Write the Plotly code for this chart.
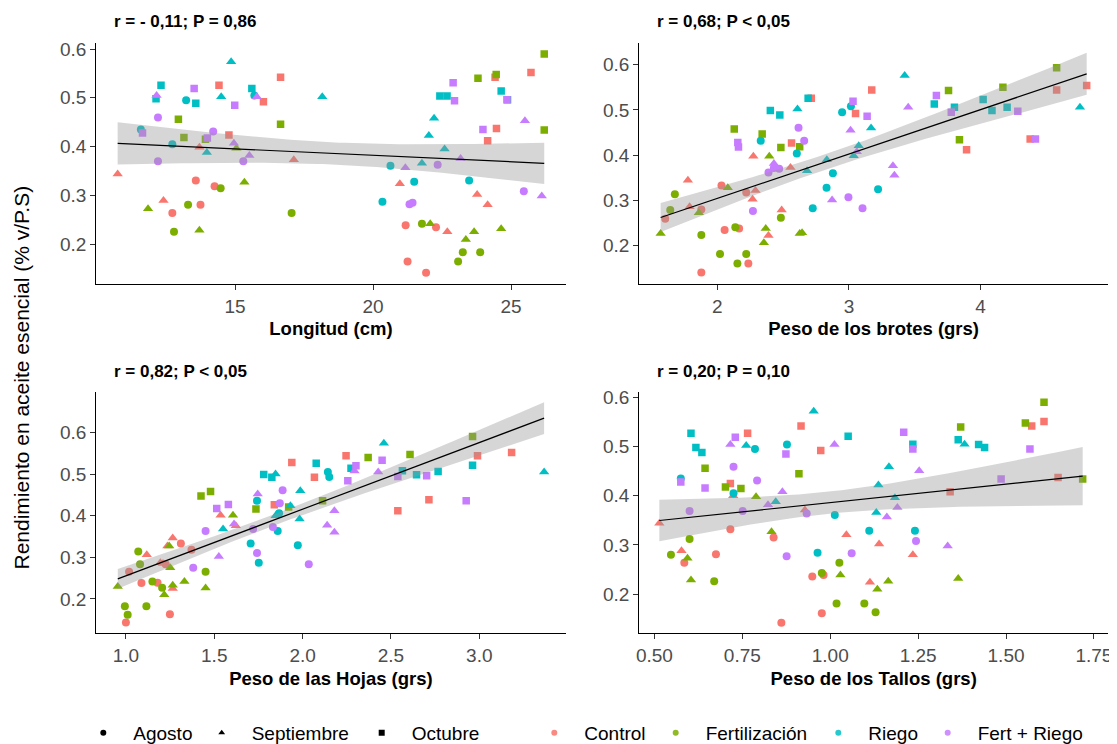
import numpy as np
import plotly.graph_objects as go

W, H = 1117, 744
OFF = 8  # the page body margin shifts the figure by 8 px; layout targets are page pixels

TREATMENTS = ["Control", "Fertilización", "Riego", "Fert + Riego"]
TRT_COLORS = ["#F8766D", "#7CAE00", "#00BFC4", "#C77CFF"]
MONTHS = ["Agosto", "Septiembre", "Octubre"]
MONTH_SYMBOLS = ["circle", "triangle-up", "square"]
MONTH_SIZES = [8, 9, 7.5]

PANEL_TITLES = ["r = - 0,11; P = 0,86", "r = 0,68; P < 0,05",
                "r = 0,82; P < 0,05", "r = 0,20; P = 0,10"]
X_TITLES = ["Longitud (cm)", "Peso de los brotes (grs)",
            "Peso de las Hojas (grs)", "Peso de los Tallos (grs)"]
Y_TITLE = "Rendimiento en aceite esencial (% v/P.S)"

# Point order in every panel: treatment (Control, Fertilización, Riego, Fert + Riego)
# x month (Agosto, Septiembre, Octubre), 8 plants per group.

# ---- Panel 1: Longitud (cm)
LONG_X = [
    13.58, 14.26, 13.75, 12.73, 21.18, 21.25, 21.92, 22.28,
    10.75, 13.71, 17.13, 12.41, 20.97, 22.69, 23.77, 24.15,
    14.42, 16.65, 16.03, 14.78, 24.42, 24.47, 24.15, 25.72,
    14.48, 13.30, 12.79, 17.05, 21.77, 23.08, 23.25, 23.88,
    15.05, 15.34, 11.85, 13.71, 22.07, 23.36, 23.66, 24.64,
    26.20, 26.20, 24.46, 23.80, 16.65, 12.95, 13.15, 13.93,
    13.23, 11.59, 12.73, 15.70, 20.34, 20.63, 21.49, 23.48,
    14.86, 14.50, 18.16, 13.98, 21.77, 22.02, 22.21, 22.59,
    12.32, 12.14, 13.58, 15.61, 22.42, 22.68, 24.64, 24.87,
    12.21, 12.21, 14.21, 15.30, 21.32, 21.43, 22.34, 25.46,
    12.16, 14.96, 15.52, 15.79, 21.17, 23.17, 25.50, 26.11,
    11.65, 13.52, 14.99, 14.00, 22.90, 22.95, 23.98, 24.85,
]
LONG_Y = [
    0.331, 0.319, 0.281, 0.264, 0.239, 0.165, 0.142, 0.235,
    0.344, 0.399, 0.373, 0.290, 0.324, 0.226, 0.302, 0.281,
    0.526, 0.542, 0.492, 0.424, 0.542, 0.437, 0.412, 0.552,
    0.315, 0.281, 0.226, 0.264, 0.242, 0.165, 0.184, 0.184,
    0.397, 0.327, 0.273, 0.229, 0.242, 0.210, 0.226, 0.232,
    0.590, 0.434, 0.548, 0.540, 0.446, 0.456, 0.419, 0.415,
    0.495, 0.435, 0.405, 0.505, 0.287, 0.361, 0.328, 0.331,
    0.574, 0.502, 0.502, 0.388, 0.366, 0.423, 0.458, 0.395,
    0.526, 0.498, 0.489, 0.519, 0.504, 0.504, 0.514, 0.496,
    0.460, 0.370, 0.431, 0.370, 0.282, 0.285, 0.363, 0.309,
    0.505, 0.407, 0.382, 0.502, 0.357, 0.376, 0.453, 0.299,
    0.428, 0.519, 0.485, 0.418, 0.531, 0.494, 0.435, 0.496,
]

# ---- Panel 2: Peso de los brotes (grs)
BROTES_X = [
    1.605, 1.879, 1.879, 2.032, 2.056, 2.166, 2.236, 2.220,
    1.777, 1.790, 2.274, 2.290, 2.268, 2.389, 2.489, 2.556,
    2.564, 2.714, 3.050, 3.173, 3.893, 4.376, 4.577, 4.805,
    1.643, 1.678, 1.879, 2.021, 2.137, 2.153, 2.220, 2.483,
    1.570, 1.860, 2.080, 2.354, 2.368, 2.395, 2.626, 2.644,
    2.129, 2.341, 2.483, 2.626, 3.756, 3.839, 4.169, 4.577,
    2.330, 2.604, 2.725, 2.830, 2.878, 2.948, 3.015, 3.221,
    2.609, 2.682, 2.832, 3.036, 3.074, 3.168, 3.423, 4.754,
    2.403, 2.475, 2.690, 3.648, 3.801, 4.019, 4.086, 4.201,
    2.271, 2.389, 2.470, 2.617, 2.660, 2.996, 3.103, 2.430,
    2.430, 2.450, 2.872, 3.012, 3.060, 3.334, 3.345, 3.450,
    2.156, 2.161, 3.031, 3.138, 3.664, 3.777, 4.282, 4.416,
]
BROTES_Y = [
    0.260, 0.280, 0.141, 0.333, 0.235, 0.238, 0.161, 0.318,
    0.345, 0.286, 0.398, 0.322, 0.303, 0.223, 0.279, 0.373,
    0.427, 0.526, 0.492, 0.544, 0.412, 0.436, 0.544, 0.554,
    0.279, 0.314, 0.224, 0.182, 0.241, 0.161, 0.182, 0.262,
    0.227, 0.273, 0.328, 0.207, 0.238, 0.398, 0.227, 0.229,
    0.458, 0.447, 0.417, 0.419, 0.543, 0.434, 0.550, 0.593,
    0.432, 0.404, 0.283, 0.328, 0.360, 0.495, 0.508, 0.325,
    0.502, 0.366, 0.390, 0.399, 0.421, 0.460, 0.576, 0.506,
    0.499, 0.489, 0.526, 0.513, 0.506, 0.523, 0.499, 0.506,
    0.277, 0.362, 0.370, 0.461, 0.432, 0.307, 0.283, 0.372,
    0.382, 0.371, 0.301, 0.455, 0.408, 0.377, 0.356, 0.506,
    0.428, 0.418, 0.519, 0.486, 0.532, 0.495, 0.497, 0.436,
]

# ---- Panel 3: Peso de las Hojas (grs)
HOJAS_X = [
    1.000, 1.018, 1.088, 1.179, 1.225, 1.249, 1.311, 1.371,
    1.118, 1.195, 1.235, 1.265, 1.265, 1.536, 1.622, 1.210,
    1.840, 1.939, 2.067, 2.246, 2.539, 2.715, 2.990, 3.183,
    0.994, 1.010, 1.070, 1.080, 1.116, 1.150, 1.205, 1.451,
    0.954, 1.217, 1.245, 1.251, 1.265, 1.331, 1.451, 1.606,
    1.425, 1.479, 1.736, 1.921, 2.113, 2.371, 2.608, 2.962,
    1.706, 1.742, 1.752, 1.859, 1.867, 1.973, 2.143, 2.151,
    1.550, 1.847, 1.847, 1.931, 1.983, 1.987, 2.460, 3.367,
    1.780, 1.826, 2.077, 2.274, 2.565, 2.645, 2.767, 2.962,
    1.451, 1.381, 1.720, 1.742, 1.832, 1.871, 1.887, 2.035,
    1.526, 1.612, 1.746, 2.139, 2.180, 2.180, 2.294, 2.428,
    1.514, 1.580, 2.256, 2.302, 2.450, 2.539, 2.702, 2.926,
]
HOJAS_Y = [
    0.143, 0.265, 0.238, 0.239, 0.283, 0.163, 0.333, 0.318,
    0.306, 0.287, 0.327, 0.346, 0.225, 0.401, 0.376, 0.285,
    0.426, 0.528, 0.492, 0.544, 0.412, 0.438, 0.544, 0.552,
    0.182, 0.162, 0.314, 0.283, 0.182, 0.242, 0.227, 0.265,
    0.230, 0.210, 0.327, 0.275, 0.233, 0.242, 0.226, 0.401,
    0.447, 0.458, 0.416, 0.421, 0.436, 0.540, 0.547, 0.590,
    0.333, 0.436, 0.287, 0.363, 0.406, 0.329, 0.505, 0.493,
    0.368, 0.500, 0.400, 0.424, 0.392, 0.460, 0.574, 0.505,
    0.499, 0.492, 0.526, 0.514, 0.508, 0.498, 0.506, 0.521,
    0.363, 0.275, 0.368, 0.310, 0.373, 0.430, 0.461, 0.283,
    0.302, 0.380, 0.452, 0.377, 0.412, 0.360, 0.507, 0.505,
    0.417, 0.427, 0.484, 0.520, 0.533, 0.494, 0.496, 0.436,
]

# ---- Panel 4: Peso de los Tallos (grs)
TALLOS_X = [
    0.585, 0.675, 0.716, 0.839, 0.861, 0.949, 0.976, 0.981,
    0.514, 0.577, 0.724, 0.928, 1.046, 1.113, 1.139, 1.235,
    0.716, 0.765, 0.917, 0.973, 1.341, 1.573, 1.608, 1.648,
    0.547, 0.600, 0.670, 0.976, 1.018, 1.026, 1.097, 1.129,
    0.594, 0.604, 0.789, 0.833, 1.029, 1.134, 1.165, 1.364,
    0.644, 0.702, 0.746, 0.911, 1.371, 1.555, 1.608, 1.718,
    0.575, 0.725, 0.786, 0.877, 0.964, 1.013, 1.111, 1.241,
    0.761, 0.845, 0.953, 1.131, 1.137, 1.167, 1.184, 1.382,
    0.604, 0.618, 0.635, 1.051, 1.235, 1.364, 1.422, 1.439,
    0.600, 0.725, 0.751, 0.792, 0.876, 0.933, 1.061, 1.244,
    0.716, 0.823, 0.864, 1.012, 1.161, 1.191, 1.253, 1.334,
    0.575, 0.644, 0.730, 0.874, 1.209, 1.235, 1.486, 1.568,
]
TALLOS_Y = [
    0.264, 0.281, 0.332, 0.315, 0.142, 0.236, 0.161, 0.239,
    0.344, 0.288, 0.400, 0.371, 0.321, 0.224, 0.302, 0.280,
    0.425, 0.527, 0.542, 0.492, 0.408, 0.542, 0.551, 0.437,
    0.280, 0.312, 0.226, 0.243, 0.181, 0.264, 0.181, 0.163,
    0.273, 0.229, 0.398, 0.327, 0.239, 0.210, 0.226, 0.232,
    0.456, 0.418, 0.415, 0.445, 0.540, 0.548, 0.590, 0.434,
    0.435, 0.405, 0.495, 0.504, 0.284, 0.361, 0.329, 0.329,
    0.502, 0.388, 0.572, 0.366, 0.422, 0.459, 0.396, 0.505,
    0.527, 0.498, 0.488, 0.521, 0.505, 0.514, 0.504, 0.498,
    0.369, 0.459, 0.369, 0.431, 0.277, 0.364, 0.283, 0.308,
    0.504, 0.382, 0.408, 0.504, 0.357, 0.376, 0.451, 0.298,
    0.428, 0.416, 0.519, 0.485, 0.529, 0.495, 0.434, 0.495,
]

PANELS = [(LONG_X, LONG_Y), (BROTES_X, BROTES_Y), (HOJAS_X, HOJAS_Y), (TALLOS_X, TALLOS_Y)]
N_PER_GROUP = 8

# ---------------- layout geometry (page pixels) ----------------
X_DOM_PX = [(96.4, 565.5), (639.3, 1108), (96.4, 565.5), (639.3, 1108)]
Y_DOM_PX = [(43, 284), (43, 284), (393, 634), (393, 634)]
X_RANGES = [[9.98, 26.97], [1.408, 4.967], [0.833, 3.488], [0.457, 1.790]]
Y_RANGES = [[0.1196, 0.6124], [0.1165, 0.648], [0.1176, 0.696], [0.1207, 0.610]]
X_TICKS = [[15, 20, 25], [2, 3, 4], [1.0, 1.5, 2.0, 2.5, 3.0], [0.5, 0.75, 1.0, 1.25, 1.5, 1.75]]
X_TICKTEXT = [["15", "20", "25"], ["2", "3", "4"], ["1.0", "1.5", "2.0", "2.5", "3.0"],
              ["0.50", "0.75", "1.00", "1.25", "1.50", "1.75"]]
Y_TICKS = [0.2, 0.3, 0.4, 0.5, 0.6]

MONTH_LEGEND_PX = [103.3, 221.7, 381.7]
TRT_LEGEND_PX = [554.3, 675.7, 838.3, 947.7]
LEGEND_Y_PX = 734

FONT = "Liberation Sans, Arial, sans-serif"
TICK_COLOR = "#4D4D4D"


def fx(px):
    return (px - OFF) / W


def fy(py):
    return 1 - (py - OFF) / H


fig = go.Figure()


def lm_band(x, y, n_grid=80, tval=1.9855):
    x = np.asarray(x, float); y = np.asarray(y, float)
    n = len(x)
    b1, b0 = np.polyfit(x, y, 1)
    resid = y - (b0 + b1 * x)
    s = np.sqrt(np.sum(resid ** 2) / (n - 2))
    xm = x.mean(); sxx = np.sum((x - xm) ** 2)
    xg = np.linspace(x.min(), x.max(), n_grid)
    fit = b0 + b1 * xg
    se = s * np.sqrt(1.0 / n + (xg - xm) ** 2 / sxx)
    return xg, fit, fit - tval * se, fit + tval * se


for p, (PX, PY) in enumerate(PANELS):
    ax = "" if p == 0 else str(p + 1)
    xref, yref = "x" + ax, "y" + ax
    for t, trt in enumerate(TREATMENTS):
        for m, mes in enumerate(MONTHS):
            start = (t * len(MONTHS) + m) * N_PER_GROUP
            xs = PX[start:start + N_PER_GROUP]
            ys = PY[start:start + N_PER_GROUP]
            fig.add_trace(go.Scatter(
                x=xs, y=ys, mode="markers", xaxis=xref, yaxis=yref,
                marker=dict(symbol=MONTH_SYMBOLS[m], size=MONTH_SIZES[m],
                            color=TRT_COLORS[t], line=dict(width=0)),
                name=f"{trt} - {mes}", showlegend=False, hoverinfo="x+y+name"))
    # regression line with 95% CI (drawn over the points, like geom_smooth)
    xg, fit, lo, hi = lm_band(PX, PY)
    fig.add_trace(go.Scatter(
        x=np.concatenate([xg, xg[::-1]]), y=np.concatenate([hi, lo[::-1]]),
        fill="toself", fillcolor="rgba(153,153,153,0.4)", line=dict(width=0),
        mode="lines", xaxis=xref, yaxis=yref, showlegend=False, hoverinfo="skip"))
    fig.add_trace(go.Scatter(
        x=xg, y=fit, mode="lines", line=dict(color="black", width=1.2),
        xaxis=xref, yaxis=yref, showlegend=False, hoverinfo="skip"))

layout = dict(
    width=W, height=H, margin=dict(l=0, r=0, t=0, b=0),
    paper_bgcolor="white", plot_bgcolor="white",
    font=dict(family=FONT, color="black"),
    annotations=[],
)

ITEMW = 50
SYM_OFFSET = ITEMW / 2 + 5   # symbol centre relative to legend box left
legend_style = dict(orientation="h", yanchor="middle", xanchor="left",
                    y=fy(LEGEND_Y_PX), font=dict(family=FONT, size=19, color="black"),
                    bgcolor="rgba(0,0,0,0)", itemwidth=ITEMW)

k = 1
for m, mes in enumerate(MONTHS):
    lname = "legend" if k == 1 else f"legend{k}"
    fig.add_trace(go.Scatter(
        x=[None], y=[None], mode="markers", name=mes, legend=lname,
        marker=dict(symbol=MONTH_SYMBOLS[m], size=6, color="black")))
    layout[lname] = dict(legend_style, x=fx(MONTH_LEGEND_PX[m] - SYM_OFFSET))
    k += 1
for t, trt in enumerate(TREATMENTS):
    lname = f"legend{k}"
    fig.add_trace(go.Scatter(
        x=[None], y=[None], mode="markers", name=trt, legend=lname,
        marker=dict(symbol="circle", size=6, color=TRT_COLORS[t], opacity=0.85)))
    layout[lname] = dict(legend_style, x=fx(TRT_LEGEND_PX[t] - SYM_OFFSET))
    k += 1

for p in range(4):
    ax = "" if p == 0 else str(p + 1)
    x0, x1 = X_DOM_PX[p]
    y0, y1 = Y_DOM_PX[p]
    axis_common = dict(showline=True, linecolor="black", linewidth=1.4,
                       ticks="outside", ticklen=5, tickwidth=1.3, tickcolor="#333333",
                       showgrid=False, zeroline=False, automargin=False,
                       ticklabeloverflow="allow",
                       tickfont=dict(family=FONT, size=19, color=TICK_COLOR))
    layout["xaxis" + ax] = dict(
        axis_common, domain=[fx(x0), fx(x1)], range=X_RANGES[p], anchor="y" + ax,
        tickvals=X_TICKS[p], ticktext=X_TICKTEXT[p],
        title=dict(text=X_TITLES[p], standoff=6,
                   font=dict(family=FONT, size=18.5, color="black", weight="bold")))
    layout["yaxis" + ax] = dict(
        axis_common, domain=[fy(y1), fy(y0)], range=Y_RANGES[p], anchor="x" + ax,
        tickvals=Y_TICKS, ticktext=["0.2", "0.3", "0.4", "0.5", "0.6"])
    layout["annotations"].append(dict(
        text=f"<b>{PANEL_TITLES[p]}</b>", xref="paper", yref="paper",
        x=fx(x0 + 16), y=fy(y0 - 21), xanchor="left", yanchor="middle",
        showarrow=False, font=dict(family=FONT, size=17, color="black")))

layout["annotations"].append(dict(
    text=Y_TITLE, xref="paper", yref="paper", x=fx(22), y=fy(378),
    xanchor="center", yanchor="middle", textangle=-90, showarrow=False,
    font=dict(family=FONT, size=21, color="black")))

fig.update_layout(**layout)
fig.write_html("out.html")
